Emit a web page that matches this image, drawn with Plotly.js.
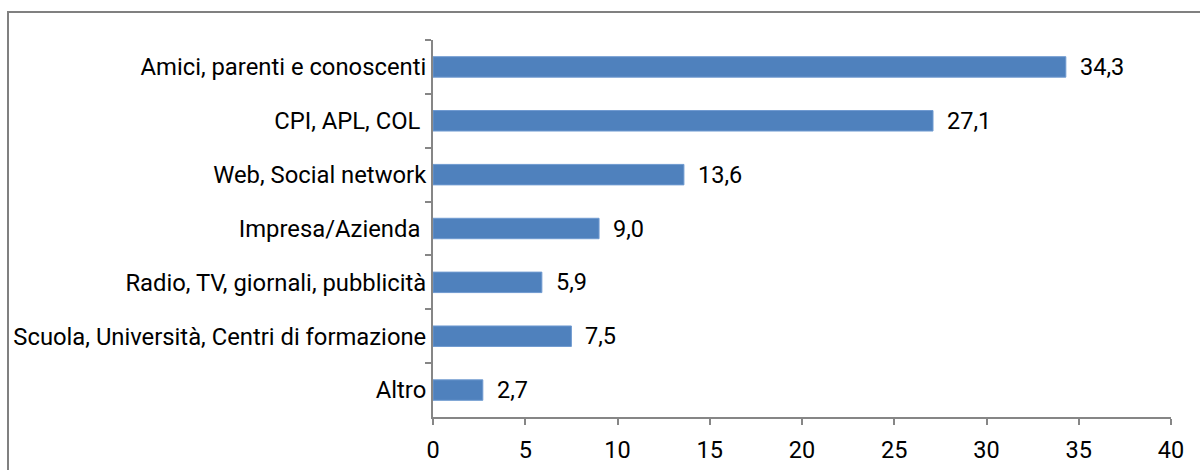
<!DOCTYPE html>
<html><head><meta charset="utf-8">
<script src="https://cdn.plot.ly/plotly-3.0.1.min.js"></script>
<style>html,body{margin:0;padding:0;background:#fff;}#chart{width:1200px;height:470px;}</style>
</head><body><div id="chart"></div>
<script>
const categories = ["Amici, parenti e conoscenti","CPI, APL, COL ","Web, Social network","Impresa/Azienda ","Radio, TV, giornali, pubblicità","Scuola, Università, Centri di formazione","Altro"];
const values = [34.3, 27.1, 13.6, 9.0, 5.9, 7.5, 2.7];
const valueLabels = values.map(v => v.toFixed(1).replace('.', ','));
const xTicks = [0,5,10,15,20,25,30,35,40];

const axisColor = '#868686';
const fontSize = 23.5;
const trace = {
  type: 'bar', orientation: 'h',
  x: values, y: categories,
  marker: {color: '#4F81BD', line: {color: '#6f9ad0', width: 1}},
  width: 0.38,
  hoverinfo: 'skip'
};
const annotations = values.map((v, i) => ({
  x: v, y: categories[i], xref: 'x', yref: 'y',
  text: valueLabels[i], showarrow: false, xanchor: 'left', xshift: 12,
  font: {family: 'Roboto', size: fontSize, color: '#000'}
}));
const layout = {
  width: 1200, height: 470,
  margin: {l: 433, r: 29, t: 40, b: 53},
  paper_bgcolor: '#fff', plot_bgcolor: '#fff',
  font: {family: 'Roboto', size: fontSize, color: '#000'},
  showlegend: false,
  xaxis: {
    range: [0, 40], tickvals: xTicks, ticktext: xTicks.map(String),
    showline: true, linecolor: axisColor, linewidth: 2,
    ticks: 'outside', ticklen: 6, tickwidth: 2, tickcolor: axisColor,
    showgrid: false, zeroline: false, fixedrange: true,
    tickfont: {family: 'Roboto', size: fontSize, color: '#000'},
    ticklabelstandoff: 5
  },
  yaxis: {
    autorange: 'reversed', type: 'category',
    showline: true, linecolor: axisColor, linewidth: 2,
    ticks: 'outside', tickson: 'boundaries', ticklen: 6, tickwidth: 2, tickcolor: axisColor,
    showgrid: false, zeroline: false, fixedrange: true,
    tickfont: {family: 'Roboto', size: 23.8, color: '#000'},
    ticklabelstandoff: 0
  },
  annotations: annotations,
  shapes: [{
    type: 'rect', xref: 'paper', yref: 'paper', layer: 'below',
    x0: (8 - 433) / 738, x1: 1.2, y0: -0.5, y1: (417 - 12) / 377,
    line: {color: '#808080', width: 2}, fillcolor: 'rgba(0,0,0,0)'
  }]
};
Plotly.newPlot('chart', [trace], layout, {displayModeBar: false, staticPlot: true});
</script></body></html>
